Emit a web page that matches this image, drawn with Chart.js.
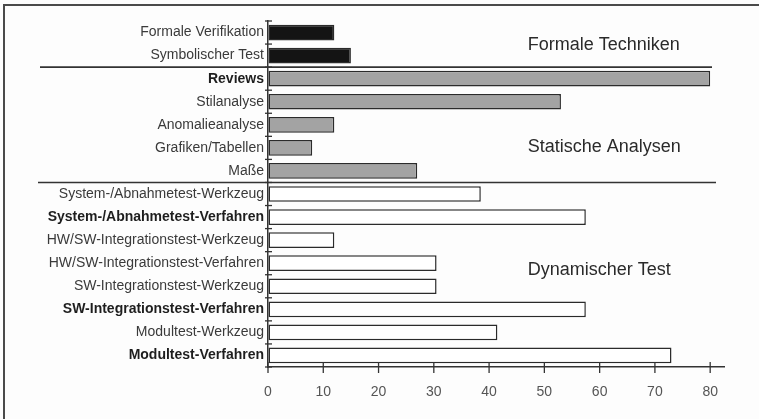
<!DOCTYPE html>
<html>
<head>
<meta charset="utf-8">
<script src="https://cdn.jsdelivr.net/npm/chart.js@4"></script>
<style>
html,body{margin:0;padding:0;background:#fff;}
#wrap{width:759px;height:419px;position:relative;}
</style>
</head>
<body>
<div id="wrap"><canvas id="c" width="759" height="419"></canvas></div>
<script>
// ---- data ----
const categories = [
  "Formale Verifikation",
  "Symbolischer Test",
  "Reviews",
  "Stilanalyse",
  "Anomalieanalyse",
  "Grafiken/Tabellen",
  "Maße",
  "System-/Abnahmetest-Werkzeug",
  "System-/Abnahmetest-Verfahren",
  "HW/SW-Integrationstest-Werkzeug",
  "HW/SW-Integrationstest-Verfahren",
  "SW-Integrationstest-Werkzeug",
  "SW-Integrationstest-Verfahren",
  "Modultest-Werkzeug",
  "Modultest-Verfahren"
];
const values = [12, 15, 80, 53, 12, 8, 27, 38.5, 57.5, 12, 30.5, 30.5, 57.5, 41.5, 73];
const groupNames = ["Formale Techniken", "Statische Analysen", "Dynamischer Test"];
const groupOf = [0,0,1,1,1,1,1,2,2,2,2,2,2,2,2];
const xTicks = [0,10,20,30,40,50,60,70,80];

// ---- style ----
const boldLabels = new Set(["Reviews","System-/Abnahmetest-Verfahren","SW-Integrationstest-Verfahren","Modultest-Verfahren"]);
const groupFill = ["#141414", "#a3a3a3", "#ffffff"];
const FONT = "'Liberation Sans', Arial, sans-serif";
const INK = "#333";

const decor = {
  id: 'decor',
  beforeDraw(chart) {
    const c = chart.ctx;
    c.save();
    c.fillStyle = '#fdfdfd';
    c.fillRect(0, 0, chart.width, chart.height);
    c.strokeStyle = '#4a4a4a';
    c.lineWidth = 2;
    c.beginPath();
    c.moveTo(4, 419); c.lineTo(4, 5); c.lineTo(759, 5);
    c.stroke();
    c.restore();
  },
  afterDraw(chart) {
    const c = chart.ctx;
    const x = chart.scales.x, y = chart.scales.y;
    c.save();
    c.strokeStyle = INK;
    c.lineWidth = 1.3;
    const ax = x.getPixelForValue(0);
    for (let i = 0; i <= categories.length; i++) {
      const py = y.getPixelForValue(i - 0.5);
      c.beginPath(); c.moveTo(ax - 3, py); c.lineTo(ax + 4, py); c.stroke();
    }
    for (const v of xTicks) {
      const px = x.getPixelForValue(v);
      c.beginPath(); c.moveTo(px, y.bottom - 5); c.lineTo(px, y.bottom + 6); c.stroke();
    }
    c.lineWidth = 1.6;
    const seps = [];
    for (let i = 1; i < groupOf.length; i++) if (groupOf[i] !== groupOf[i-1]) seps.push(i);
    const sepExt = [[40, 712], [38, 716]];
    seps.forEach((i, k) => {
      const py = y.getPixelForValue(i - 0.5);
      c.beginPath(); c.moveTo(sepExt[k][0], py); c.lineTo(sepExt[k][1], py); c.stroke();
    });
    c.fillStyle = '#2a2a2a';
    c.font = "18px " + FONT;
    c.textAlign = 'left';
    c.textBaseline = 'middle';
    const labelPos = [0.54, 4.96, 10.29];
    groupNames.forEach((g, k) => {
      c.fillText(g, x.getPixelForValue(47), y.getPixelForValue(labelPos[k]));
    });
    c.restore();
  }
};

new Chart(document.getElementById('c'), {
  type: 'bar',
  data: {
    labels: categories,
    datasets: [{
      data: values,
      backgroundColor: values.map((v, i) => groupFill[groupOf[i]]),
      borderColor: '#2b2b2b',
      borderWidth: 1.5,
      borderSkipped: false,
      barPercentage: 0.68,
      categoryPercentage: 1
    }]
  },
  options: {
    indexAxis: 'y',
    responsive: false,
    animation: false,
    layout: { padding: { top: 21, right: 35, bottom: 0, left: 0 } },
    plugins: { legend: { display: false }, tooltip: { enabled: false } },
    scales: {
      x: {
        type: 'linear',
        min: 0, max: 82.5,
        afterBuildTicks(s) { s.ticks = xTicks.map(v => ({ value: v })); },
        afterFit(s) { s.height = 52; },
        grid: { display: true, drawOnChartArea: false, drawTicks: false },
        border: { display: true, color: INK, width: 1.5 },
        ticks: { padding: 17, color: '#555', font: { family: FONT, size: 14 } }
      },
      y: {
        afterFit(s) { s.width = 268; },
        grid: { display: true, drawOnChartArea: false, drawTicks: false },
        border: { display: true, color: INK, width: 1.5 },
        ticks: {
          padding: 4,
          color: (ctx) => boldLabels.has(categories[ctx.index]) ? '#1e1e1e' : '#3a3a3a',
          font: (ctx) => ({ family: FONT, size: 14, weight: boldLabels.has(categories[ctx.index]) ? 'bold' : 'normal' })
        }
      }
    }
  },
  plugins: [decor]
});
</script>
</body>
</html>
